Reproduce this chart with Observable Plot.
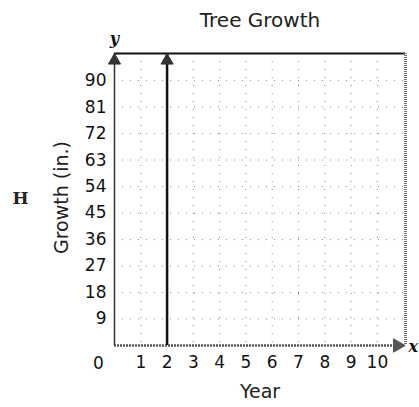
<!DOCTYPE html>
<html>
<head>
<meta charset="utf-8">
<script src="https://cdn.jsdelivr.net/npm/d3@7"></script>
<script src="https://cdn.jsdelivr.net/npm/@observablehq/plot@0.6"></script>
<style>
  html, body { margin: 0; padding: 0; background: #fff; }
  #chart svg { display: block; }
</style>
</head>
<body>
<div id="chart"></div>
<script>
// ---- data ----
const title = "Tree Growth";
const xLabel = "Year";
const yLabel = "Growth (in.)";
const sideLetter = "H";
const xTicks = [1, 2, 3, 4, 5, 6, 7, 8, 9, 10];
const yTicks = [9, 18, 27, 36, 45, 54, 63, 72, 81, 90];
const xDomain = [0, 11.07];
const yDomain = [0, 99.2];
const markedYears = [2];      // vertical line drawn at year 2
const arrowY = 96.8;          // where the upward arrowheads sit
const arrowX = 10.76;         // where the rightward arrowhead sits

const font = "DejaVu Sans, Verdana, sans-serif";

const chart = Plot.plot({
  width: 419,
  height: 407,
  marginLeft: 114,
  marginRight: 14,
  marginTop: 53,
  marginBottom: 62,
  style: { fontFamily: font, background: "#fff", color: "#111" },
  x: { domain: xDomain, axis: null },
  y: { domain: yDomain, axis: null },
  marks: [
    // sparse dotted grid
    Plot.gridX(xTicks, { stroke: "#666", strokeOpacity: 0.8, strokeDasharray: "1,7", strokeWidth: 1 }),
    Plot.gridY(yTicks, { stroke: "#666", strokeOpacity: 0.8, strokeDasharray: "1,7", strokeWidth: 1 }),
    // frame pieces
    Plot.ruleY([yDomain[1]], { stroke: "#111", strokeWidth: 2 }),
    Plot.ruleX([xDomain[1]], { stroke: "#777", strokeWidth: 3, strokeDasharray: "1,1" }),
    Plot.ruleY([0], { stroke: "#555", strokeWidth: 2.5, strokeDasharray: "2,1" }),
    Plot.ruleX([0], { stroke: "#333", strokeWidth: 1.5 }),
    // vertical line at year 2
    Plot.ruleX(markedYears, { stroke: "#111", strokeWidth: 2.5 }),
    // arrowheads
    Plot.dot([0, ...markedYears], { x: d => d, y: arrowY, symbol: "triangle", r: 4.5, fill: "#333", stroke: "#333", strokeWidth: 1 }),
    Plot.dot([arrowX], { x: d => d, y: 0, symbol: "triangle", rotate: 90, r: 5, fill: "#555", stroke: "#555", strokeWidth: 1 }),
    // axes tick labels
    Plot.axisX(xTicks, { tickSize: 0, tickPadding: 10, fontSize: 17, anchor: "bottom", label: null }),
    Plot.axisY(yTicks, { tickSize: 0, tickPadding: 8, fontSize: 17, anchor: "left", label: null }),
    Plot.text([0], { x: d => d, y: 0, text: d => String(d), dx: -16, dy: 18, fontSize: 17, fill: "#111" }),
    // titles and labels
    Plot.text([title], { frameAnchor: "top", dy: -41, fontSize: 20, fill: "#222" }),
    Plot.text([xLabel], { frameAnchor: "bottom", dy: 52, fontSize: 19, fill: "#222" }),
    Plot.text([yLabel], { frameAnchor: "left", textAnchor: "middle", dx: -53, dy: -2, rotate: -90, fontSize: 19, fill: "#222" }),
    Plot.text([sideLetter], { frameAnchor: "left", textAnchor: "middle", dx: -94, dy: -1, fontSize: 17, fontWeight: "bold", fontFamily: "DejaVu Serif, serif", fill: "#222" }),
    Plot.text(["y"], { frameAnchor: "top-left", textAnchor: "middle", dy: -21, fontSize: 16, fontStyle: "italic", fontWeight: "bold", fontFamily: "DejaVu Serif, serif", fill: "#111" }),
    Plot.text(["x"], { frameAnchor: "bottom-right", textAnchor: "start", dx: 3, dy: 6, fontSize: 16, fontStyle: "italic", fontWeight: "bold", fontFamily: "DejaVu Serif, serif", fill: "#111" })
  ]
});

document.getElementById("chart").appendChild(chart);
</script>
</body>
</html>
